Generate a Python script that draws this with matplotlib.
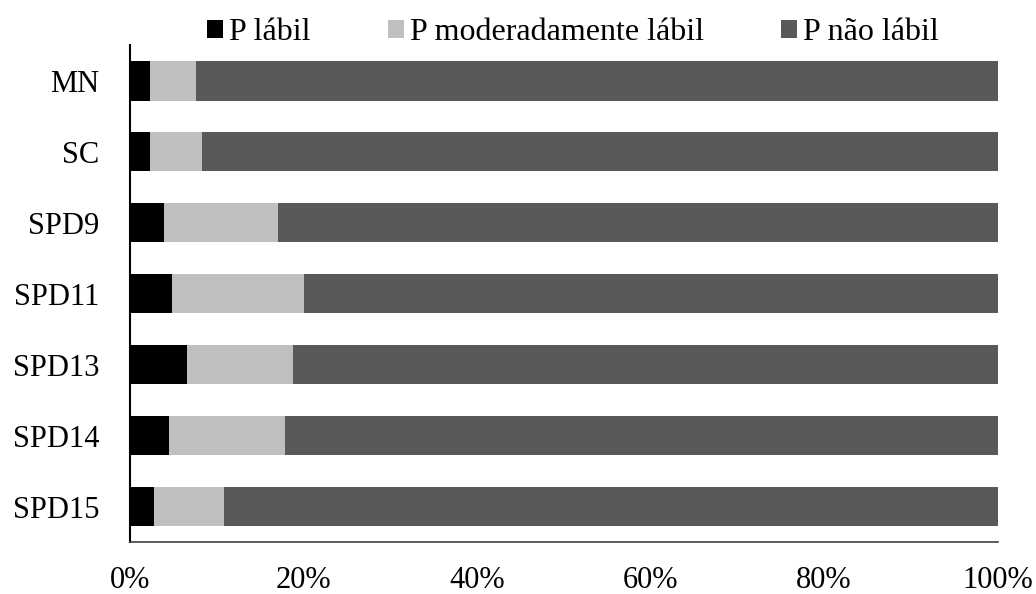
import matplotlib
matplotlib.use('Agg')
from matplotlib import pyplot as plt
import numpy as np

# values (percent of total P)
treatments = ['MN', 'SC', 'SPD9', 'SPD11', 'SPD13', 'SPD14', 'SPD15']
p_labil = [2.25, 2.25, 3.9, 4.8, 6.6, 4.45, 2.8]
p_moderado = [5.3, 6.0, 13.1, 15.3, 12.2, 13.4, 8.0]
p_nao_labil = [100 - a - b for a, b in zip(p_labil, p_moderado)]

series_names = ['P lábil', 'P moderadamente lábil', 'P não lábil']
colors = ['#000000', '#bfbfbf', '#595959']
xticks = [0, 20, 40, 60, 80, 100]

plt.rcParams['font.family'] = ['Liberation Serif', 'DejaVu Serif']

fig = plt.figure(figsize=(10.36, 5.94), dpi=100)
ax = fig.add_axes([0.1255, 0.0875, 0.8375, 0.8365])

y = np.arange(len(treatments))
left = np.zeros(len(treatments))
for vals, name, c in zip([p_labil, p_moderado, p_nao_labil], series_names, colors):
    ax.barh(y, vals, left=left, height=0.56, color=c, label=name)
    left += np.array(vals)

ax.set_ylim(len(treatments) - 0.5, -0.5)
ax.set_xlim(0, 100)
ax.set_yticks(y)
ax.set_yticklabels(treatments, fontsize=22)
ax.set_xticks(xticks)
ax.set_xticklabels([f'{v}%' for v in xticks], fontsize=22)
ax.tick_params(length=0, axis='y', pad=22)
ax.tick_params(length=0, axis='x', pad=17)

for s in ['top', 'right']:
    ax.spines[s].set_visible(False)
ax.spines['left'].set_linewidth(1.5)
ax.spines['bottom'].set_color('#404040')
ax.spines['bottom'].set_linewidth(1.2)

fig.legend(loc='center', bbox_to_anchor=(0.553, 0.945), ncol=3, frameon=False,
           fontsize=23, handlelength=0.5, handleheight=0.5,
           handletextpad=0.2, columnspacing=2.4, borderaxespad=0)

fig.savefig('out.png', dpi=100)
